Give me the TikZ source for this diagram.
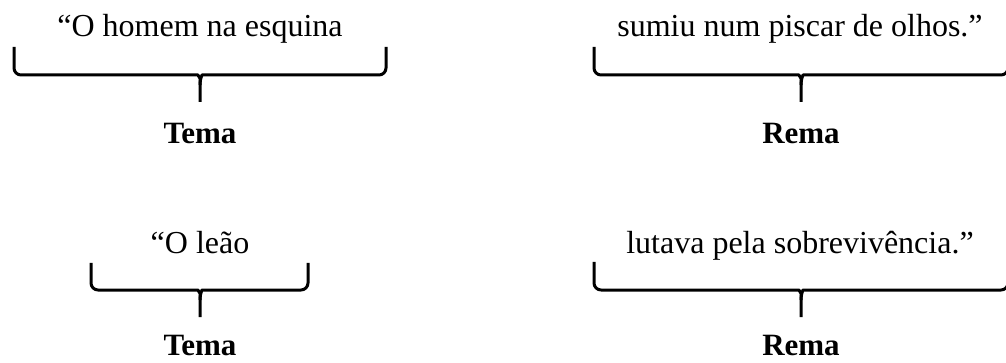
\documentclass[tikz,border=0pt]{standalone}
\usepackage{fontspec}
\setmainfont{Liberation Serif}
\usetikzlibrary{positioning, calc}

\tikzset{
  phrase/.style={font=\fontsize{32}{36}\selectfont, inner sep=0pt, anchor=base},
  role/.style={font=\fontsize{31}{36}\selectfont\bfseries, inner sep=0pt, anchor=base},
  bracket/.style={line width=3pt, line join=round},
}

% brace from coordinate #1 (left arm top) to #2 (right arm top), tip at #3
\newcommand{\curlybrace}[3]{%
  \draw[bracket, rounded corners=7pt] (#1) -- (#1 |- #3bar) -- ($(#3bar)+(-9,0)$)
    .. controls ($(#3bar)+(-2,0)$) and ($(#3bar)+(0,4)$) .. ($(#3bar)+(0,10)$) -- (#3);
  \draw[bracket, rounded corners=7pt] (#2) -- (#2 |- #3bar) -- ($(#3bar)+(9,0)$)
    .. controls ($(#3bar)+(2,0)$) and ($(#3bar)+(0,4)$) .. ($(#3bar)+(0,10)$);
}

\begin{document}
\begin{tikzpicture}[x=1pt, y=-1pt]
        \useasboundingbox (0,0) rectangle (1006,363);

        % first sentence
        \node[phrase] (temaA) at (200,37) {“O homem na esquina};
        \node[phrase] (remaA) at (800,37) {sumiu num piscar de olhos.”};
        \node[role] (labTemaA) at (200,144) {Tema};
        \node[role] (labRemaA) at (801,144) {Rema};

        \coordinate (braceAl) at (14,47);
        \coordinate (braceAr) at (386,47);
        \coordinate (tipAbar) at (200,75);
        \coordinate (tipA) at (200,102);
        \curlybrace{braceAl}{braceAr}{tipA}

        \coordinate (braceBl) at (594,47);
        \coordinate (braceBr) at (1008,47);
        \coordinate (tipBbar) at (801,75);
        \coordinate (tipB) at (801,102);
        \curlybrace{braceBl}{braceBr}{tipB}

        % second sentence
        \node[phrase] (temaC) at (200,254) {“O leão};
        \node[phrase] (remaC) at (800,254) {lutava pela sobrevivência.”};
        \node[role] (labTemaC) at (200,355) {Tema};
        \node[role] (labRemaC) at (801,355) {Rema};

        \coordinate (braceCl) at (91,263);
        \coordinate (braceCr) at (308,263);
        \coordinate (tipCbar) at (200,290);
        \coordinate (tipC) at (200,317);
        \curlybrace{braceCl}{braceCr}{tipC}

        \coordinate (braceDl) at (594,262);
        \coordinate (braceDr) at (1008,262);
        \coordinate (tipDbar) at (801,290);
        \coordinate (tipD) at (801,317);
        \curlybrace{braceDl}{braceDr}{tipD}
\end{tikzpicture}
\end{document}
